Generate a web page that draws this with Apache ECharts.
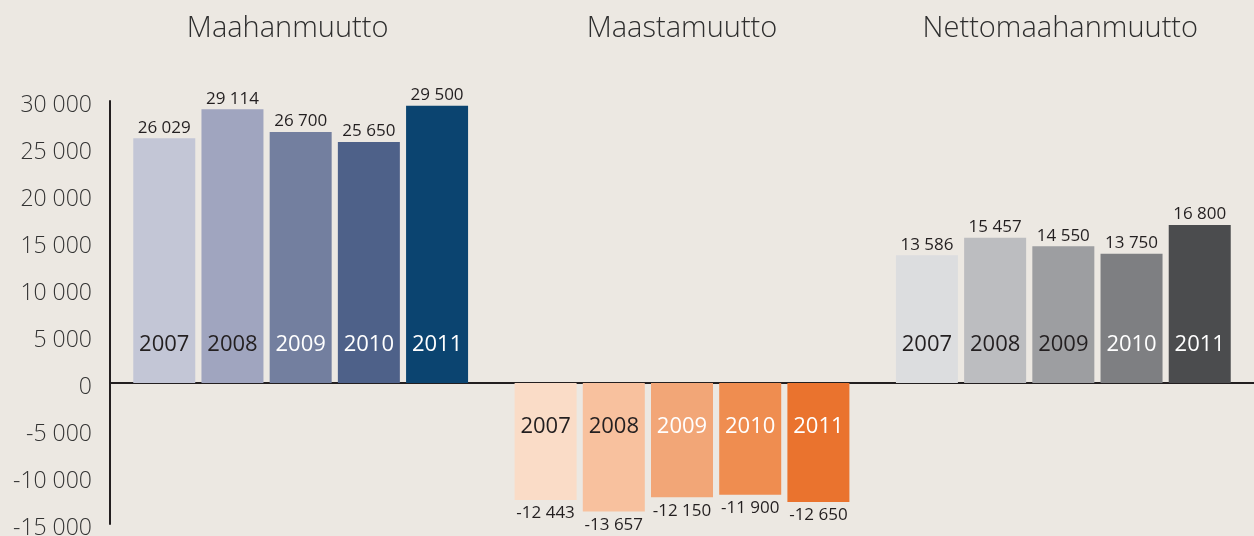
<!DOCTYPE html>
<html>
<head>
<meta charset="utf-8">
<script src="https://cdn.jsdelivr.net/npm/echarts@6/dist/echarts.min.js"></script>
<style>
  html, body { margin: 0; padding: 0; background: #ece8e2; }
  #chart { width: 1254px; height: 536px; }
</style>
</head>
<body>
<div id="chart"></div>
<script>
// groups and years
const groups = ["Maahanmuutto", "Maastamuutto", "Nettomaahanmuutto"];
const years = ["2007", "2008", "2009", "2010", "2011"];

// values per group, one per year
const immigration = [26029, 29114, 26700, 25650, 29500];
const emigration = [-12443, -13657, -12150, -11900, -12650];
const netMigration = [13586, 15457, 14550, 13750, 16800];

// y axis ticks
const yMin = -15000;
const yMax = 30000;
const yStep = 5000;

// bar colours, per group, per year
const colors = [
  ["#c3c6d6", "#a0a5bf", "#737f9f", "#4e6189", "#0b4470"],
  ["#fadcc7", "#f8c19e", "#f2a677", "#ef8d50", "#ea732e"],
  ["#dcdddf", "#bcbdc0", "#9d9ea1", "#7e7f82", "#4b4c4e"],
];
// year label colour inside the bars
const yearTextColors = [
  ["#231f20", "#231f20", "#fff", "#fff", "#fff"],
  ["#231f20", "#231f20", "#fff", "#fff", "#fff"],
  ["#231f20", "#231f20", "#231f20", "#fff", "#fff"],
];

const font = "'Open Sans', 'Noto Sans', sans-serif";
const ink = "#231f20";

function fmt(v) {
  const s = String(Math.abs(v)).replace(/\B(?=(\d{3})+(?!\d))/g, " ");
  return (v < 0 ? "-" : "") + s;
}

const groupData = [immigration, emigration, netMigration];

const barSeries = years.map((year, yi) => ({
  type: "bar",
  name: year,
  xAxisIndex: 0,
  barWidth: 62,
  barGap: "10%",
  silent: true,
  data: groupData.map((vals, gi) => {
    const v = vals[yi];
    return {
      value: v,
      itemStyle: { color: colors[gi][yi] },
      label: {
        show: true,
        formatter: year,
        position: v >= 0 ? "insideBottom" : "insideTop",
        distance: v >= 0 ? 27 : 33,
        color: yearTextColors[gi][yi],
        fontFamily: font,
        fontSize: 22,
      },
    };
  }),
}));

// transparent twins carrying the value labels
const valueSeries = years.map((year, yi) => ({
  type: "bar",
  name: year + " arvo",
  xAxisIndex: 1,
  barWidth: 62,
  barGap: "10%",
  silent: true,
  z: 3,
  data: groupData.map((vals) => {
    const v = vals[yi];
    return {
      value: v,
      itemStyle: { color: "rgba(0,0,0,0)" },
      label: {
        show: true,
        formatter: fmt(v),
        position: v >= 0 ? "top" : "bottom",
        distance: v >= 0 ? 2 : 5,
        color: ink,
        fontFamily: font,
        fontSize: 17,
      },
    };
  }),
}));

const chart = echarts.init(document.getElementById("chart"));
chart.setOption({
  backgroundColor: "#ece8e2",
  animation: false,
  grid: { left: 110, right: 0, top: 101, bottom: 12, outerBoundsMode: "none" },
  xAxis: [
    {
      type: "category",
      data: groups,
      axisLine: { show: true, onZero: true, lineStyle: { color: ink, width: 2 } },
      axisTick: { show: false },
      axisLabel: { show: false },
    },
    {
      type: "category",
      data: groups,
      position: "top",
      axisLine: { show: false },
      axisTick: { show: false },
      axisLabel: {
        show: true,
        margin: 58,
        // titles sit a little left of the bar groups
        formatter: (v, i) => (i === 0 ? "{a|" + v + "}" : i === 2 ? "{c|" + v + "}" : "{b|" + v + "}"),
        rich: {
          a: { padding: [0, 26, 0, 0], color: "#2e2e2e", fontFamily: font, fontWeight: 300, fontSize: 29 },
          b: { color: "#2e2e2e", fontFamily: font, fontWeight: 300, fontSize: 29 },
          c: { padding: [0, 6, 0, 0], color: "#2e2e2e", fontFamily: font, fontWeight: 300, fontSize: 29 },
        },
      },
    },
  ],
  yAxis: {
    type: "value",
    min: yMin,
    max: yMax,
    interval: yStep,
    axisLine: { show: true, lineStyle: { color: ink, width: 2 } },
    axisTick: { show: false },
    splitLine: { show: false },
    axisLabel: {
      margin: 18,
      formatter: (v) => "{t|" + fmt(v) + "}",
      rich: {
        t: { padding: [8, 0, 0, 0], color: "#333", fontFamily: font, fontWeight: 300, fontSize: 23 },
      },
    },
  },
  series: [...barSeries, ...valueSeries],
});
</script>
</body>
</html>
